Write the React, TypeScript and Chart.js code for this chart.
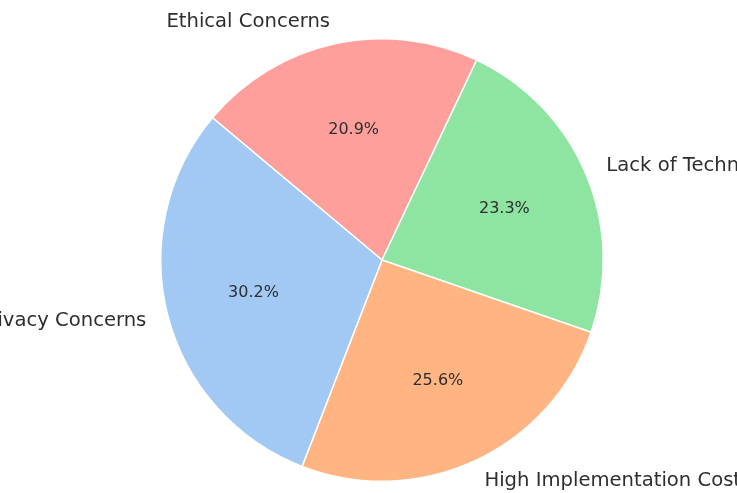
import React, { useEffect, useRef } from "react";
import { Chart, registerables } from "chart.js";

Chart.register(...registerables);

// Chart.js draws clockwise; matplotlib drew counter-clockwise from 140°.
const categories = [
  "Ethical Concerns",
  "Lack of Technical Expertise",
  "High Implementation Costs",
  "Data Privacy Concerns",
];
const values = [9, 10, 11, 13];
const colors = ["#ff9f9b", "#8de5a1", "#ffb482", "#a1c9f4"];

const labelPlugin = {
  id: "pieLabels",
  afterDatasetsDraw(chart: any) {
    const ctx = chart.ctx;
    const meta = chart.getDatasetMeta(0);
    const data = chart.data.datasets[0].data as number[];
    const total = data.reduce((a: number, b: number) => a + b, 0);
    ctx.save();
    meta.data.forEach((arc: any, i: number) => {
      const { x, y, startAngle, endAngle, outerRadius } = arc.getProps(
        ["x", "y", "startAngle", "endAngle", "outerRadius"],
        true
      );
      const mid = (startAngle + endAngle) / 2;
      const cx = Math.cos(mid);
      const cy = Math.sin(mid);
      // outer label
      ctx.fillStyle = "#2e2e2e";
      ctx.font = "19.6px 'DejaVu Sans'";
      ctx.textBaseline = "middle";
      ctx.textAlign = cx >= 0 ? "left" : "right";
      ctx.fillText(
        chart.data.labels[i],
        x + cx * outerRadius * 1.1,
        y + cy * outerRadius * 1.1
      );
      // percentage
      ctx.font = "16px 'DejaVu Sans'";
      ctx.textAlign = "center";
      const pct = ((data[i] / total) * 100).toFixed(1) + "%";
      ctx.fillText(pct, x + cx * outerRadius * 0.6, y + cy * outerRadius * 0.6);
    });
    ctx.restore();
  },
};

export default function App() {
  const ref = useRef<HTMLCanvasElement>(null);
  useEffect(() => {
    document.body.style.margin = "0";
    const chart = new Chart(ref.current!, {
      type: "pie",
      data: {
        labels: categories,
        datasets: [
          {
            data: values,
            backgroundColor: colors,
            borderColor: "#ffffff",
            borderWidth: 1.5,
          },
        ],
      },
      options: {
        responsive: false,
        animation: false,
        rotation: -50,
        layout: { padding: { left: 160, right: 133, top: 38, bottom: 11 } },
        plugins: {
          legend: { display: false },
          tooltip: { enabled: false },
        },
      },
      plugins: [labelPlugin],
    });
    return () => chart.destroy();
  }, []);
  return (
    <div style={{ position: "absolute", left: 0, top: 0, width: 737, height: 493, background: "#fff" }}>
      <canvas ref={ref} width={737} height={493} />
    </div>
  );
}
